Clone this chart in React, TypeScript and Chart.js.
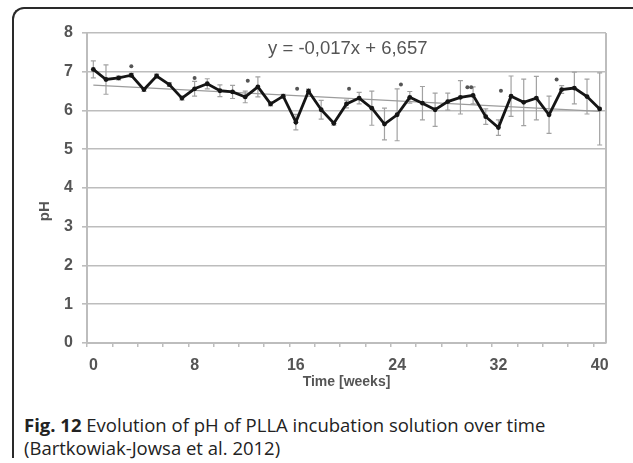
import React, { useEffect, useRef } from "react";
import { Chart, registerables } from "chart.js";

Chart.register(...registerables);

// ---- data ----
const weeks = [0, 1, 2, 3, 4, 5, 6, 7, 8, 9, 10, 11, 12, 13, 14, 15, 16, 17, 18, 19, 20, 21, 22, 23, 24, 25, 26, 27, 28, 29, 30, 31, 32, 33, 34, 35, 36, 37, 38, 39, 40];
const phValues = [7.06, 6.8, 6.84, 6.91, 6.54, 6.89, 6.67, 6.32, 6.56, 6.69, 6.51, 6.48, 6.35, 6.61, 6.17, 6.37, 5.7, 6.5, 6.02, 5.67, 6.17, 6.32, 6.06, 5.65, 5.89, 6.34, 6.19, 6.02, 6.23, 6.34, 6.39, 5.84, 5.56, 6.37, 6.21, 6.32, 5.89, 6.54, 6.58, 6.36, 6.04];
const phErrors = [0.22, 0.38, 0.05, 0.05, 0.05, 0.05, 0.05, 0.05, 0.19, 0.13, 0.15, 0.17, 0.15, 0.26, 0.05, 0.05, 0.2, 0.05, 0.24, 0.05, 0.1, 0.15, 0.44, 0.41, 0.67, 0.15, 0.43, 0.43, 0.22, 0.43, 0.22, 0.2, 0.2, 0.52, 0.6, 0.56, 0.48, 0.1, 0.41, 0.45, 0.93];
const markerWeeks = [3, 8, 12.2, 16.1, 20.2, 24.3, 29.55, 29.85, 32.2, 36.6];
const markerValues = [7.14, 6.84, 6.77, 6.56, 6.56, 6.67, 6.6, 6.6, 6.51, 6.8];
const trendSlope = -0.017;
const trendIntercept = 6.657;
const trendWeeks = [0, 40];
const equationText = "y = -0,017x + 6,657";
const xLabelTicks = [0, 8, 16, 24, 32, 40];
const xMarkTicks = [-0.5, 1.5, 3.5, 5.5, 7.5, 9.5, 11.5, 13.5, 15.5, 17.5, 19.5, 21.5, 23.5, 25.5, 27.5, 29.5, 31.5, 33.5, 35.5, 37.5, 39.5];
const yAxisTitle = "pH";
const xAxisTitle = "Time [weeks]";

const GRID = "#bdbdbd";
const TICK_FONT = "'Liberation Sans', Arial, sans-serif";

export default function App() {
  const canvasRef = useRef<HTMLCanvasElement | null>(null);

  useEffect(() => {
    const canvas = canvasRef.current;
    if (!canvas) return;

    const errorBars = {
      id: "errorBars",
      beforeDatasetsDraw(chart: any) {
        const { ctx, scales } = chart;
        const xs = scales.x, ys = scales.y;
        ctx.save();
        ctx.strokeStyle = "#a2a2a2";
        ctx.lineWidth = 1.2;
        weeks.forEach((w, i) => {
          const px = xs.getPixelForValue(w);
          const top = ys.getPixelForValue(phValues[i] + phErrors[i]);
          const bot = ys.getPixelForValue(phValues[i] - phErrors[i]);
          ctx.beginPath();
          ctx.moveTo(px, top);
          ctx.lineTo(px, bot);
          ctx.moveTo(px - 2.5, top);
          ctx.lineTo(px + 2.5, top);
          ctx.moveTo(px - 2.5, bot);
          ctx.lineTo(px + 2.5, bot);
          ctx.stroke();
        });
        ctx.restore();
      },
    };

    const extras = {
      id: "extras",
      afterDraw(chart: any) {
        const { ctx, chartArea, scales } = chart;
        ctx.save();
        ctx.strokeStyle = GRID;
        ctx.lineWidth = 2;
        ctx.beginPath();
        ctx.moveTo(chartArea.right, chartArea.top);
        ctx.lineTo(chartArea.right, chartArea.bottom);
        ctx.stroke();
        ctx.fillStyle = "#555";
        ctx.font = `18.5px ${TICK_FONT}`;
        ctx.textAlign = "center";
        ctx.textBaseline = "middle";
        ctx.fillText(equationText, scales.x.getPixelForValue(20.1), scales.y.getPixelForValue(7.6));
        ctx.save();
        ctx.translate(45, scales.y.getPixelForValue(3.4));
        ctx.rotate(-Math.PI / 2);
        ctx.font = `bold 15px ${TICK_FONT}`;
        ctx.fillStyle = "#555";
        ctx.fillText(yAxisTitle, 0, 0);
        ctx.restore();
        ctx.restore();
      },
    };

    const chart = new Chart(canvas, {
      type: "line",
      data: {
        datasets: [
          {
            label: "pH",
            data: weeks.map((w, i) => ({ x: w, y: phValues[i] })),
            borderColor: "#151515",
            backgroundColor: "#151515",
            borderWidth: 2.8,
            pointRadius: 2.4,
            pointBorderWidth: 0,
            tension: 0,
          },
          {
            label: "trend",
            data: trendWeeks.map((w) => ({ x: w, y: trendIntercept + trendSlope * w })),
            borderColor: "#9c9c9c",
            borderWidth: 1.3,
            pointRadius: 0,
          },
          {
            label: "significance",
            type: "scatter",
            data: markerWeeks.map((w, i) => ({ x: w, y: markerValues[i] })),
            backgroundColor: "#555",
            borderWidth: 0,
            pointRadius: 2,
          } as any,
        ],
      },
      options: {
        animation: false,
        responsive: false,
        maintainAspectRatio: false,
        layout: { padding: { top: 33, right: 27, left: 0, bottom: 2 } },
        plugins: { legend: { display: false }, tooltip: { enabled: false } },
        scales: {
          x: {
            type: "linear",
            min: -0.5,
            max: 40.5,
            afterBuildTicks: (scale: any) => {
              const vals = [...xMarkTicks, ...xLabelTicks].sort((a, b) => a - b);
              scale.ticks = vals.map((v) => ({ value: v }));
            },
            afterFit: (scale: any) => {
              scale.height = 50;
            },
            ticks: {
              autoSkip: false,
              maxRotation: 0,
              padding: 9,
              color: "#555",
              font: { family: TICK_FONT, size: 16, weight: "bold" },
              callback: (v: any) => (xLabelTicks.includes(Number(v)) ? String(v) : ""),
            },
            grid: {
              drawOnChartArea: false,
              tickLength: 4,
              lineWidth: 1.5,
              tickColor: (ctx: any) =>
                ctx.tick && xLabelTicks.includes(ctx.tick.value) ? "rgba(0,0,0,0)" : GRID,
            },
            border: { color: GRID, width: 2 },
            title: {
              display: true,
              text: xAxisTitle,
              color: "#555",
              font: { family: TICK_FONT, size: 14, weight: "bold" },
              padding: { top: 0, bottom: 2 },
            },
          },
          y: {
            min: 0,
            max: 8,
            afterFit: (scale: any) => {
              scale.width = 87;
            },
            ticks: {
              stepSize: 1,
              padding: 9,
              color: "#555",
              font: { family: TICK_FONT, size: 16, weight: "bold" },
            },
            grid: { color: GRID, lineWidth: 1.6, tickLength: 5 },
            border: { color: GRID, width: 2 },
          },
        },
      },
      plugins: [errorBars, extras],
    } as any);

    return () => chart.destroy();
  }, []);

  return (
    <div
      style={{
        position: "fixed",
        left: 0,
        top: 0,
        width: 633,
        height: 463,
        overflow: "hidden",
        background: "#fff",
      }}
    >
      <div
        style={{
          position: "absolute",
          left: 12,
          top: 7,
          width: 700,
          height: 451,
          borderTop: "2px solid #2a2a2a",
          borderLeft: "2px solid #2a2a2a",
          borderTopLeftRadius: 12,
          boxSizing: "border-box",
        }}
      />
      <canvas
        ref={canvasRef}
        width={633}
        height={395}
        style={{ position: "absolute", left: 0, top: 0, width: 633, height: 395 }}
      />
      <div
        style={{
          position: "absolute",
          left: 24,
          top: 413,
          fontFamily: "'Open Sans', 'Noto Sans', sans-serif",
          fontSize: 18.5,
          lineHeight: "23px",
          color: "#222",
          whiteSpace: "nowrap",
        }}
      >
        <span style={{ fontWeight: 700 }}>Fig. 12</span> Evolution of pH of PLLA incubation solution over time
        <br />
        (Bartkowiak-Jowsa et al. 2012)
      </div>
    </div>
  );
}
